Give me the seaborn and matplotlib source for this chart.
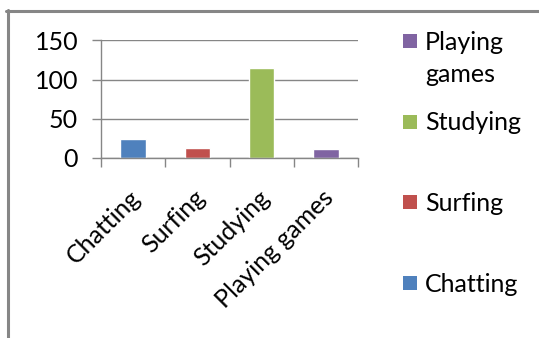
import matplotlib
matplotlib.use("Agg")
import matplotlib.pyplot as plt
from matplotlib.lines import Line2D
from matplotlib.patches import Rectangle
import matplotlib.transforms as mtransforms
import seaborn as sns
import pandas as pd

# Data
categories = ["Chatting", "Surfing", "Studying", "Playing games"]
hours = [24, 13, 115, 12]
legend_labels = ["Chatting", "Surfing", "Studying", "Playing\ngames"]
y_ticks = [0, 50, 100, 150]
colors = ["#4F81BD", "#C0504D", "#9BBB59", "#8064A2"]

sns.set_theme(style="white")
plt.rcParams["font.family"] = ["Lato", "DejaVu Sans"]

W, H = 539, 338
FS = 18
fig = plt.figure(figsize=(W / 100, H / 100), dpi=100)
ax = fig.add_axes([101 / W, 1 - 158 / H, (358 - 101) / W, (158 - 40.3) / H])

df = pd.DataFrame({"activity": categories, "value": hours})
sns.barplot(data=df, x="activity", y="value", hue="activity",
            palette=colors, width=0.4, legend=False, ax=ax,
            saturation=1)

grid_c = "#868686"
ax.set_ylim(0, 150)
ax.set_xlim(-0.5, len(categories) - 0.5)
ax.set_yticks(y_ticks)
ax.set_yticklabels([str(t) for t in y_ticks], fontsize=FS, color="black")
ax.yaxis.grid(True, color=grid_c, linewidth=1)
ax.set_axisbelow(True)
ax.set_xlabel("")
ax.set_ylabel("")
for side in ["top", "right"]:
    ax.spines[side].set_visible(False)
for side in ["left", "bottom"]:
    ax.spines[side].set_color(grid_c)
    ax.spines[side].set_linewidth(1)

ax.tick_params(axis="y", which="major", direction="out", length=6.5,
               width=1, color=grid_c, pad=10, left=True)
# category boundaries get the tick marks, centres get the labels
ax.set_xticks([i - 0.5 for i in range(len(categories) + 1)], minor=True)
ax.tick_params(axis="x", which="minor", direction="out", length=6.5,
               width=1, color=grid_c, bottom=True)
ax.set_xticks(range(len(categories)))
ax.set_xticklabels(categories, rotation=45, ha="right", va="top",
                   rotation_mode="anchor", fontsize=FS, color="black")
ax.tick_params(axis="x", which="major", length=0, pad=20)
offset = mtransforms.ScaledTranslation(-4 / 100, 0, fig.dpi_scale_trans)
for lbl in ax.get_xticklabels():
    lbl.set_transform(lbl.get_transform() + offset)

# legend, listed in reverse order; wrapped labels are set line by line
sq = 14
line_pitch = 32
for k, i in enumerate(reversed(range(len(categories)))):
    cy = 41 + 80.5 * k
    fig.patches.append(Rectangle((403 / W, 1 - (cy + sq / 2) / H), sq / W, sq / H,
                                 transform=fig.transFigure, facecolor=colors[i],
                                 edgecolor="none"))
    for j, line in enumerate(legend_labels[i].split("\n")):
        fig.text(425 / W, 1 - (cy + 9 + j * line_pitch) / H, line, fontsize=FS,
                 va="baseline", ha="left", color="black")

# chart frame
fig.add_artist(Line2D([6 / W, 1], [1 - 10.5 / H, 1 - 10.5 / H],
                      color="#868686", linewidth=2.2, transform=fig.transFigure))
fig.add_artist(Line2D([7.5 / W, 7.5 / W], [0, 1 - 9.5 / H],
                      color="#868686", linewidth=2.2, transform=fig.transFigure))

fig.savefig("out.png", dpi=100)
